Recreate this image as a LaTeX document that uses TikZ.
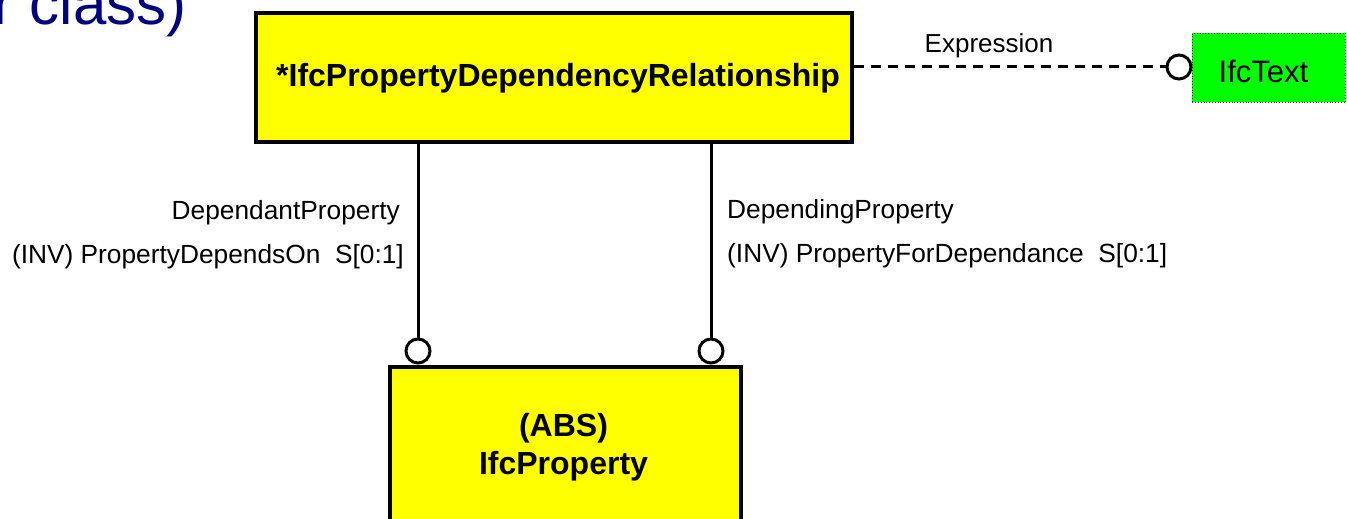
\documentclass[tikz,border=0pt]{standalone}
\usepackage{fontspec}
\setmainfont{Liberation Sans}
\definecolor{navyt}{RGB}{0,0,128}
\definecolor{ifcyellow}{RGB}{255,255,0}
\definecolor{ifcgreen}{RGB}{0,255,0}
\tikzset{
  entity/.style={draw=black, line width=4pt, fill=ifcyellow, inner sep=0pt},
  conn/.style={draw=black, line width=3pt},
  endcirc/.style={circle, draw=black, line width=3pt, fill=white, minimum size=24pt, inner sep=0pt},
  lbl/.style={font=\fontsize{26.3}{30}\selectfont, inner sep=0pt},
  boldlbl/.style={font=\bfseries\fontsize{32}{38}\selectfont, inner sep=0pt},
}
\begin{document}
\begin{tikzpicture}[x=1pt,y=-1pt]
\useasboundingbox (0,0) rectangle (1347,519);
\clip (0,0) rectangle (1347,519);
% title fragment
\node[anchor=base west, inner sep=0pt, text=navyt, font=\fontsize{60}{68}\selectfont] (title) at (-7,25) {r class)};
% top entity
\node[entity, minimum width=596pt, minimum height=128.5pt, anchor=north west] (rel) at (254,11.5) {};
\node[boldlbl, anchor=base] (reltxt) at (558,87) {*IfcPropertyDependencyRelationship};
% bottom entity
\node[entity, minimum width=350.5pt, minimum height=200pt, anchor=north west] (prop) at (388,364.5) {};
\node[boldlbl, anchor=base] (abs) at (563.5,436) {(ABS)};
\node[boldlbl, anchor=base] (proptxt) at (563.5,474) {IfcProperty};
% IfcText
\node[draw=black!80, dotted, line width=0.8pt, fill=ifcgreen, minimum width=153pt, minimum height=69pt, anchor=north west, inner sep=0pt] (txt) at (1192,33) {};
\node[font=\fontsize{31}{36}\selectfont, inner sep=0pt, anchor=base] (txtlbl) at (1263.5,82) {IfcText};
% circles
\node[endcirc] (c1) at (418,351) {};
\node[endcirc] (c2) at (711,351) {};
\node[endcirc] (c3) at (1179,67) {};
% connectors
\draw[conn] (rel.south -| c1) -- (c1.north);
\draw[conn] (rel.south -| c2) -- (c2.north);
\draw[conn, dash pattern=on 10pt off 7pt] (rel.east |- c3) -- (c3.west);
% labels
\node[lbl, anchor=base east] (l1) at (400,219) {DependantProperty};
\node[lbl, anchor=base east] (l2) at (404,263) {(INV) PropertyDependsOn\ \ S[0:1]};
\node[lbl, anchor=base west] (r1) at (727,218) {DependingProperty};
\node[lbl, anchor=base west] (r2) at (727,262) {(INV) PropertyForDependance\ \ S[0:1]};
\node[lbl, font=\fontsize{26}{30}\selectfont, anchor=base] (ex) at (989,53) {Expression};
\end{tikzpicture}
\end{document}
